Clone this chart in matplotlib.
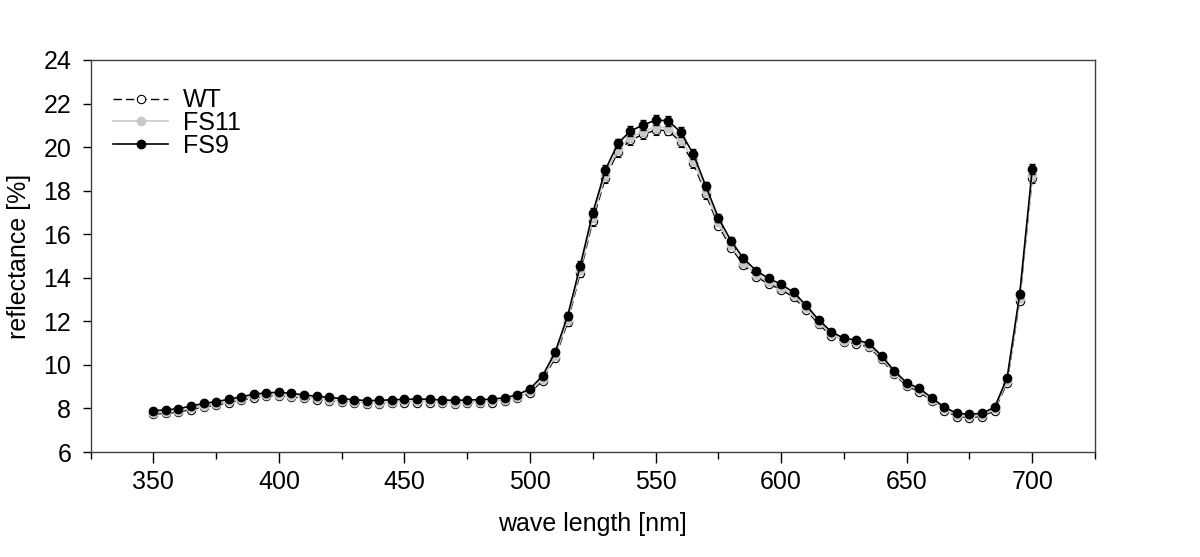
import matplotlib
matplotlib.use("Agg")
import matplotlib.pyplot as plt
from matplotlib.lines import Line2D
from matplotlib.ticker import MultipleLocator

plt.rcParams['font.family'] = ['Liberation Sans', 'DejaVu Sans']

wavelength = list(range(350, 701, 5))

fs9 = [7.90, 7.93, 7.99, 8.11, 8.23, 8.31, 8.42, 8.54, 8.65, 8.72,
       8.74, 8.69, 8.62, 8.56, 8.51, 8.45, 8.40, 8.36, 8.37, 8.40,
       8.42, 8.43, 8.42, 8.39, 8.37, 8.39, 8.40, 8.43, 8.49, 8.63,
       8.90, 9.50, 10.58, 12.26, 14.56, 16.99, 18.95, 20.17, 20.74, 21.01,
       21.24, 21.21, 20.69, 19.69, 18.21, 16.76, 15.70, 14.89, 14.33, 13.97,
       13.70, 13.33, 12.73, 12.06, 11.52, 11.22, 11.14, 10.99, 10.42, 9.73,
       9.18, 8.92, 8.49, 8.05, 7.78, 7.73, 7.78, 8.05, 9.41, 13.24,
       18.99]

fs11 = [7.80, 7.83, 7.89, 8.01, 8.13, 8.21, 8.32, 8.44, 8.55, 8.62,
        8.64, 8.59, 8.52, 8.46, 8.41, 8.35, 8.30, 8.26, 8.27, 8.30,
        8.32, 8.33, 8.32, 8.29, 8.27, 8.29, 8.30, 8.33, 8.39, 8.52,
        8.78, 9.36, 10.42, 12.08, 14.36, 16.78, 18.72, 19.92, 20.46, 20.72,
        20.92, 20.90, 20.38, 19.42, 17.97, 16.54, 15.50, 14.70, 14.15, 13.81,
        13.55, 13.19, 12.60, 11.94, 11.41, 11.11, 11.03, 10.89, 10.32, 9.63,
        9.09, 8.83, 8.40, 7.96, 7.69, 7.64, 7.69, 7.96, 9.28, 13.06,
        18.70]

wt = [7.74, 7.77, 7.83, 7.95, 8.07, 8.15, 8.26, 8.38, 8.49, 8.56,
      8.58, 8.53, 8.46, 8.40, 8.35, 8.29, 8.24, 8.20, 8.21, 8.24,
      8.26, 8.27, 8.26, 8.23, 8.21, 8.23, 8.24, 8.27, 8.33, 8.46,
      8.71, 9.28, 10.32, 11.96, 14.22, 16.62, 18.58, 19.78, 20.32, 20.58,
      20.78, 20.76, 20.24, 19.28, 17.83, 16.40, 15.38, 14.60, 14.05, 13.72,
      13.46, 13.10, 12.51, 11.86, 11.33, 11.04, 10.96, 10.82, 10.25, 9.57,
      9.03, 8.77, 8.34, 7.90, 7.63, 7.58, 7.63, 7.90, 9.18, 12.95,
      18.57]

# standard error, roughly the same for all lines
err = [0.08, 0.08, 0.08, 0.08, 0.08, 0.08, 0.08, 0.08, 0.08, 0.08,
       0.08, 0.08, 0.08, 0.08, 0.08, 0.08, 0.08, 0.08, 0.08, 0.08,
       0.08, 0.08, 0.08, 0.08, 0.08, 0.08, 0.08, 0.08, 0.08, 0.08,
       0.10, 0.12, 0.15, 0.18, 0.20, 0.22, 0.22, 0.22, 0.22, 0.22,
       0.22, 0.22, 0.22, 0.22, 0.20, 0.18, 0.16, 0.15, 0.14, 0.14,
       0.14, 0.13, 0.12, 0.12, 0.11, 0.10, 0.10, 0.10, 0.10, 0.09,
       0.09, 0.09, 0.08, 0.08, 0.08, 0.08, 0.08, 0.08, 0.10, 0.15,
       0.22]

fig = plt.figure(figsize=(12, 5.57), dpi=100)
ax = fig.add_axes([0.0755, 0.1885, 0.837, 0.7038])

wt_style = dict(color='black', linestyle=(0, (6, 3)), linewidth=1.0, marker='o', markersize=6,
                markerfacecolor='white', markeredgecolor='black', markeredgewidth=0.8)
fs11_style = dict(color='#c8c8c8', linestyle='-', linewidth=1.2, marker='o', markersize=6,
                  markerfacecolor='#c8c8c8', markeredgecolor='#c8c8c8')
fs9_style = dict(color='black', linestyle='-', linewidth=1.2, marker='o', markersize=6,
                 markerfacecolor='black', markeredgecolor='black')

ax.errorbar(wavelength, wt, yerr=err, ecolor='black', elinewidth=0.8, capsize=2.5, zorder=2, **wt_style)
ax.errorbar(wavelength, fs11, yerr=err, ecolor='#b0b0b0', elinewidth=0.8, capsize=2.5, zorder=3, **fs11_style)
ax.errorbar(wavelength, fs9, yerr=err, ecolor='black', elinewidth=0.8, capsize=2.5, zorder=4, **fs9_style)

ax.set_xlim(325, 725)
ax.set_ylim(6, 24)
ax.xaxis.set_major_locator(MultipleLocator(50))
ax.xaxis.set_minor_locator(MultipleLocator(25))
ax.yaxis.set_major_locator(MultipleLocator(2))

ax.tick_params(axis='x', which='major', direction='out', length=8, width=1, labelsize=18, pad=5,
               top=False)
ax.tick_params(axis='x', which='minor', direction='out', length=5, width=1, top=False)
ax.tick_params(axis='y', which='major', direction='out', length=6, width=1, labelsize=18, pad=8,
               right=False)
for s in ax.spines.values():
    s.set_linewidth(1.0)
    s.set_color('#404040')

ax.set_xlabel('wave length [nm]', fontsize=18, labelpad=13)
ax.set_ylabel('reflectance [%]', fontsize=18, labelpad=9)

handles = [Line2D([], [], **wt_style), Line2D([], [], **fs11_style), Line2D([], [], **fs9_style)]
ax.legend(handles, ['WT', 'FS11', 'FS9'], loc='upper left', bbox_to_anchor=(0.0, 0.985),
          frameon=False, fontsize=18, handlelength=2.2, labelspacing=-0.05, handletextpad=0.6)

plt.savefig('out.png', dpi=100)
plt.close()
